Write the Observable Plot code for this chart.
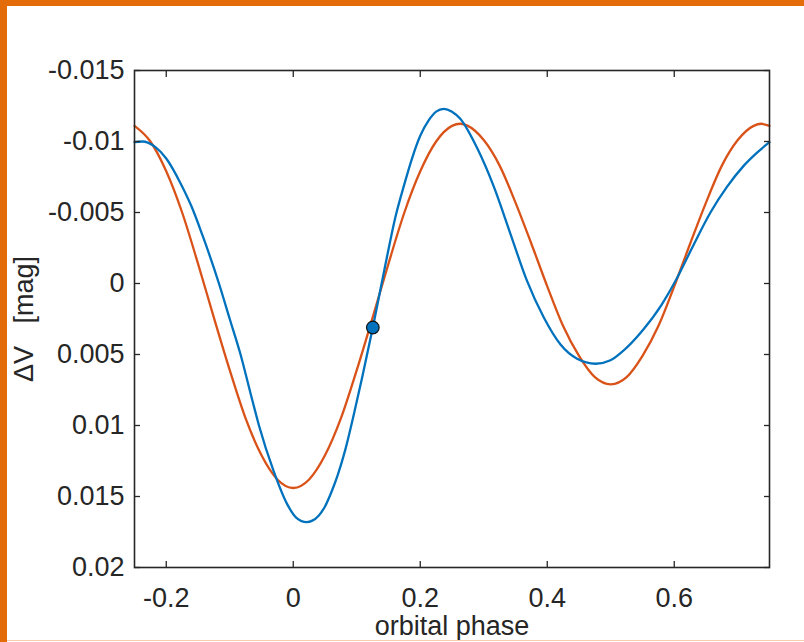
<!DOCTYPE html>
<html><head><meta charset="utf-8">
<script src="https://cdn.jsdelivr.net/npm/d3@7"></script>
<script src="https://cdn.jsdelivr.net/npm/@observablehq/plot@0.6"></script>
<style>
html,body{margin:0;padding:0;background:#fff;}
#wrap{position:relative;width:804px;height:642px;overflow:hidden;background:#fff;}
#bl{position:absolute;left:0;top:0;width:7px;height:642px;background:#E36C09;}
#bt{position:absolute;left:0;top:0;width:804px;height:6px;background:#E36C09;}
#bb{position:absolute;left:7px;top:640px;width:797px;height:1px;background:#F6CDB0;}
#chart{position:absolute;left:0;top:0;}
</style></head>
<body><div id="wrap"><div id="chart"></div><div id="bl"></div><div id="bt"></div><div id="bb"></div></div>
<script>
// Orange curve
const orangePhase = [-0.25,-0.225,-0.2,-0.175,-0.15,-0.125,-0.1,-0.075,-0.05,-0.025,0,0.025,0.05,0.075,0.1,0.125,0.15,0.175,0.2,0.225,0.25,0.263,0.275,0.3,0.325,0.35,0.375,0.4,0.425,0.45,0.475,0.5,0.525,0.55,0.575,0.6,0.625,0.65,0.675,0.7,0.725,0.737,0.75];
const orangeDV = [-0.0111,-0.0100,-0.0079,-0.0050,-0.0014,0.0024,0.0061,0.0095,0.0121,0.0138,0.0144,0.0138,0.0121,0.0095,0.0061,0.0024,-0.0014,-0.0050,-0.0079,-0.0100,-0.0111,-0.01125,-0.0111,-0.0101,-0.0083,-0.0057,-0.0028,0.0002,0.0030,0.0051,0.0066,0.0071,0.0066,0.0051,0.0030,0.0002,-0.0028,-0.0057,-0.0083,-0.0101,-0.0111,-0.01125,-0.0111];
// Blue curve (read points)
const bluePhase = [-0.25,-0.238,-0.217,-0.2,-0.178,-0.16,-0.143,-0.117,-0.1,-0.083,-0.068,-0.054,-0.031,-0.01,0.005,0.021,0.03,0.04,0.05,0.06,0.07,0.082,0.095,0.1086,0.1253,0.145,0.161,0.175,0.187,0.2,0.2135,0.225,0.237,0.25,0.263,0.29,0.316,0.342,0.368,0.3946,0.4209,0.447,0.476,0.4996,0.5154,0.552,0.58,0.6046,0.628,0.657,0.683,0.7096,0.73,0.75];
const blueDV = [-0.00995,-0.0100,-0.0096,-0.0088,-0.0071,-0.0054,-0.0034,0.0000,0.0025,0.0050,0.0076,0.0100,0.0132,0.0155,0.0165,0.0168,0.0167,0.01635,0.0157,0.0147,0.0135,0.0117,0.0093,0.0066,0.0031,-0.0013,-0.0047,-0.0070,-0.0088,-0.0104,-0.0115,-0.0121,-0.0123,-0.0121,-0.0116,-0.0095,-0.0068,-0.0035,-0.0002,0.0024,0.0043,0.0053,0.00565,0.0054,0.0049,0.0032,0.0015,-0.0004,-0.0025,-0.0050,-0.0068,-0.0083,-0.0092,-0.00995];
// Marked point
const markPhase = [0.1253];
const markDV = [0.0031];
// Ticks
const xTicks = [-0.2,0,0.2,0.4,0.6];
const xTickLabels = ["-0.2","0","0.2","0.4","0.6"];
const yTicks = [-0.015,-0.01,-0.005,0,0.005,0.01,0.015,0.02];
const yTickLabels = ["-0.015","-0.01","-0.005","0","0.005","0.01","0.015","0.02"];

const orange = orangePhase.map((x,i)=>({x, y: orangeDV[i]}));
const blue = bluePhase.map((x,i)=>({x, y: blueDV[i]}));
const mark = markPhase.map((x,i)=>({x, y: markDV[i]}));

const font = "'Liberation Sans', Arial, Helvetica, sans-serif";
const ink = "#262626";
const fs = 27;

const plot = Plot.plot({
  width: 804, height: 642,
  marginLeft: 134, marginRight: 35, marginTop: 70, marginBottom: 75,
  style: {background: "transparent", fontFamily: font, fontSize: fs + "px", color: ink, overflow: "visible"},
  x: {domain: [-0.25, 0.75]},
  y: {domain: [-0.015, 0.02], reverse: true},
  marks: [
    Plot.line(orange, {x: "x", y: "y", stroke: "#D95319", strokeWidth: 2.3, curve: "monotone-x"}),
    Plot.line(blue, {x: "x", y: "y", stroke: "#0072BD", strokeWidth: 2.3, curve: "monotone-x"}),
    Plot.dot(mark, {x: "x", y: "y", r: 6.3, fill: "#0072BD", stroke: "#111", strokeWidth: 1.2}),
    Plot.axisX({anchor: "bottom", ticks: xTicks, tickSize: -6, text: null, label: null, stroke: ink, strokeWidth: 1.3}),
    Plot.axisX({anchor: "top", ticks: xTicks, tickSize: -6, text: null, label: null, stroke: ink, strokeWidth: 1.3}),
    Plot.axisY({anchor: "left", ticks: yTicks, tickSize: -6, text: null, label: null, stroke: ink, strokeWidth: 1.3}),
    Plot.axisY({anchor: "right", ticks: yTicks, tickSize: -6, text: null, label: null, stroke: ink, strokeWidth: 1.3}),
    Plot.axisX({anchor: "bottom", ticks: xTicks, tickSize: 0, tickPadding: 20, fontSize: fs, fill: ink,
      tickFormat: d => xTickLabels[xTicks.indexOf(d)], label: "orbital phase", labelAnchor: "center", labelArrow: "none", labelOffset: 67}),
    Plot.axisY({anchor: "left", ticks: yTicks, tickSize: 0, tickPadding: 10, fontSize: fs, fill: ink,
      tickFormat: d => yTickLabels[yTicks.indexOf(d)], label: "ΔV   [mag]", labelAnchor: "center", labelArrow: "none", labelOffset: 121}),
    Plot.frame({stroke: ink, strokeWidth: 1.6})
  ]
});
document.getElementById("chart").appendChild(plot);
</script>
</body></html>
